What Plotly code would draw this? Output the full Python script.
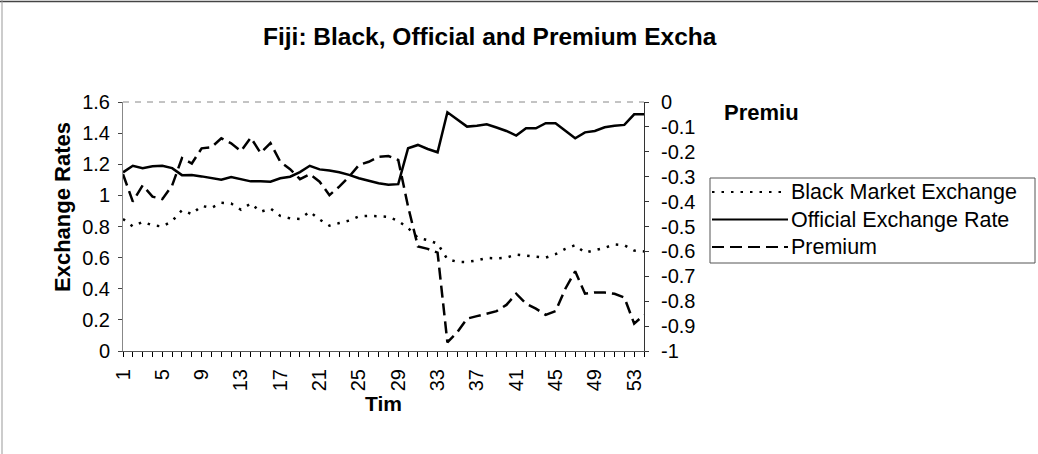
import plotly.graph_objects as go

# Time periods 1..54
periods = list(range(1, 55))

# Official exchange rate (left axis)
official_rate = [
    1.148, 1.190, 1.174, 1.187, 1.190, 1.175, 1.130, 1.131, 1.122, 1.110,
    1.100, 1.118, 1.105, 1.090, 1.090, 1.088, 1.110, 1.120, 1.150, 1.190,
    1.167, 1.160, 1.148, 1.132, 1.110, 1.092, 1.078, 1.068, 1.072, 1.303,
    1.324, 1.298, 1.277, 1.534, 1.485, 1.442, 1.448, 1.457, 1.436, 1.414,
    1.384, 1.431, 1.431, 1.464, 1.464, 1.414, 1.367, 1.405, 1.414, 1.438,
    1.448, 1.453, 1.521, 1.521,
]

# Black market exchange rate (left axis)
black_market_rate = [
    0.848, 0.800, 0.830, 0.808, 0.800, 0.835, 0.905, 0.880, 0.932, 0.920,
    0.953, 0.948, 0.908, 0.948, 0.895, 0.915, 0.868, 0.852, 0.848, 0.895,
    0.845, 0.805, 0.822, 0.838, 0.865, 0.868, 0.866, 0.862, 0.835, 0.790,
    0.727, 0.712, 0.690, 0.590, 0.573, 0.572, 0.582, 0.598, 0.595, 0.600,
    0.620, 0.614, 0.605, 0.600, 0.622, 0.656, 0.680, 0.632, 0.648, 0.663,
    0.685, 0.680, 0.645, 0.640,
]

# Premium (right axis)
premium = [
    -0.290, -0.400, -0.335, -0.380, -0.390, -0.335, -0.225, -0.247, -0.186, -0.182,
    -0.146, -0.166, -0.197, -0.143, -0.205, -0.165, -0.240, -0.270, -0.310, -0.290,
    -0.320, -0.374, -0.340, -0.300, -0.253, -0.240, -0.220, -0.217, -0.233, -0.420,
    -0.580, -0.590, -0.605, -0.965, -0.925, -0.870, -0.860, -0.850, -0.840, -0.815,
    -0.770, -0.810, -0.830, -0.855, -0.840, -0.750, -0.680, -0.770, -0.765, -0.765,
    -0.770, -0.785, -0.890, -0.855,
]

series_names = ["Black Market Exchange", "Official Exchange Rate", "Premium"]

x_tick_labels = [str(p) if (p - 1) % 4 == 0 else "" for p in periods]
left_ticks = [0, 0.2, 0.4, 0.6, 0.8, 1.0, 1.2, 1.4, 1.6]
left_tick_labels = ["0", "0.2", "0.4", "0.6", "0.8", "1", "1.2", "1.4", "1.6"]
right_ticks = [0, -0.1, -0.2, -0.3, -0.4, -0.5, -0.6, -0.7, -0.8, -0.9, -1.0]
right_tick_labels = ["0", "-0.1", "-0.2", "-0.3", "-0.4", "-0.5",
                     "-0.6", "-0.7", "-0.8", "-0.9", "-1"]

W, H = 1038, 454
L, R, T, B = 123, 644, 102, 351
FONT = "Liberation Sans, Arial, sans-serif"

DOT = "2.5px,7px"
DASH = "12px,6px"
line_styles = [
    dict(color="black", width=2.5, dash=DOT),
    dict(color="black", width=2.5),
    dict(color="black", width=2.5, dash=DASH),
]


def px_x(px):
    return (px - L) / (R - L)


def px_y(py):
    return (B - py) / (B - T)


fig = go.Figure()
fig.add_trace(go.Scatter(x=periods, y=black_market_rate, name=series_names[0],
                         mode="lines", line=line_styles[0]))
fig.add_trace(go.Scatter(x=periods, y=official_rate, name=series_names[1],
                         mode="lines", line=line_styles[1]))
fig.add_trace(go.Scatter(x=periods, y=premium, name=series_names[2], yaxis="y2",
                         mode="lines", line=line_styles[2]))

tick_font = dict(family=FONT, size=20, color="black")

# Boxed legend drawn with shapes and text
legend_shapes = [
    dict(type="rect", xref="paper", yref="paper",
         x0=px_x(710), x1=px_x(1035), y0=px_y(263), y1=px_y(178),
         line=dict(color="#555", width=1), fillcolor="white", layer="above"),
]
legend_notes = []
for k, (name, style) in enumerate(zip(series_names, line_styles)):
    row_y = 192 + k * 27.5
    legend_shapes.append(dict(
        type="line", xref="paper", yref="paper",
        x0=px_x(712), x1=px_x(788), y0=px_y(row_y), y1=px_y(row_y),
        line=dict(color="black", width=2, dash=style.get("dash", "solid")),
        layer="above"))
    legend_notes.append(dict(
        text=name, xref="paper", yref="paper", x=px_x(789), y=px_y(row_y),
        xanchor="left", yanchor="middle", showarrow=False,
        font=dict(family=FONT, size=21.5, color="black")))

fig.update_layout(
    width=W, height=H,
    margin=dict(l=L, r=W - R, t=T, b=H - B, pad=0),
    paper_bgcolor="white", plot_bgcolor="white",
    font=dict(family=FONT, color="black"),
    showlegend=False,
    xaxis=dict(
        range=[1, 54], tickmode="array", tickvals=periods, ticktext=x_tick_labels,
        tickangle=-90, ticks="outside", ticklen=5, tickwidth=1, tickcolor="black",
        showline=True, linecolor="#555", linewidth=1, showgrid=False, zeroline=False,
        tickfont=tick_font, ticklabelstandoff=4,
    ),
    xaxis2=dict(
        overlaying="x", side="bottom", anchor="y", range=[1, 54],
        tickmode="array", tickvals=periods, ticks="inside", ticklen=5,
        tickwidth=1, tickcolor="black", showticklabels=False, showline=False,
        showgrid=False, zeroline=False,
    ),
    yaxis=dict(
        range=[0, 1.6], tickmode="array", tickvals=left_ticks, ticktext=left_tick_labels,
        ticks="outside", ticklen=4, tickwidth=1, tickcolor="#444",
        showline=True, linecolor="#888", linewidth=1, showgrid=False, zeroline=False,
        tickfont=tick_font, ticklabelstandoff=4,
    ),
    yaxis2=dict(
        overlaying="y", side="right", range=[-1, 0], tickmode="array",
        tickvals=right_ticks, ticktext=right_tick_labels,
        ticks="outside", ticklen=4, tickwidth=1, tickcolor="#333",
        showline=True, linecolor="#333", linewidth=1, showgrid=False, zeroline=False,
        tickfont=tick_font, ticklabelstandoff=8,
    ),
    yaxis3=dict(
        overlaying="y", side="left", anchor="x", range=[0, 1.6], tickmode="array",
        tickvals=left_ticks, ticks="inside", ticklen=4, tickcolor="#444",
        showticklabels=False, showline=False, showgrid=False, zeroline=False,
    ),
    yaxis4=dict(
        overlaying="y", side="right", anchor="x", range=[-1, 0], tickmode="array",
        tickvals=right_ticks, ticks="inside", ticklen=4, tickcolor="#333",
        showticklabels=False, showline=False, showgrid=False, zeroline=False,
    ),
    shapes=[
        # dashed plot-area top border
        dict(type="line", xref="paper", yref="paper", x0=0, x1=1, y0=1, y1=1,
             line=dict(color="#888", width=1, dash="6px,6px")),
        # chart-area frame (top and left edges)
        dict(type="line", xref="paper", yref="paper", x0=px_x(0), x1=px_x(W),
             y0=px_y(1.5), y1=px_y(1.5), line=dict(color="#444", width=1.5)),
        dict(type="line", xref="paper", yref="paper", x0=px_x(2), x1=px_x(2),
             y0=px_y(0), y1=px_y(H), line=dict(color="#999", width=1)),
    ] + legend_shapes,
    annotations=[
        dict(text="<b>Fiji: Black, Official and Premium Excha</b>", xref="paper", yref="paper",
             x=px_x(490), y=px_y(36), xanchor="center", yanchor="middle", showarrow=False,
             font=dict(family=FONT, size=24.5, color="black")),
        dict(text="<b>Exchange Rates</b>", xref="paper", yref="paper",
             x=px_x(62), y=px_y(207), xanchor="center", yanchor="middle", textangle=-90,
             showarrow=False, font=dict(family=FONT, size=22, color="black")),
        dict(text="<b>Tim</b>", xref="paper", yref="paper",
             x=px_x(383), y=px_y(403), xanchor="center", yanchor="middle",
             showarrow=False, font=dict(family=FONT, size=21, color="black")),
        dict(text="<b>Premiu</b>", xref="paper", yref="paper",
             x=px_x(722), y=px_y(112), xanchor="left", yanchor="middle",
             showarrow=False, font=dict(family=FONT, size=22, color="black")),
    ] + legend_notes,
)

fig.write_html("out.html")
